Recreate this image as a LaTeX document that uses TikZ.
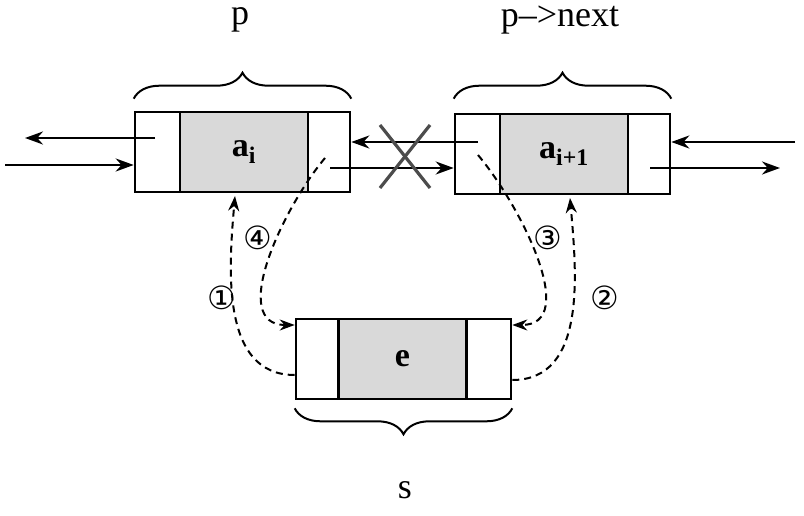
\documentclass[tikz,border=0pt]{standalone}
\usepackage{fontspec}
\setmainfont{Liberation Serif}
\newfontfamily\circfont{DejaVu Sans}
\usetikzlibrary{decorations.pathreplacing,arrows.meta}

\begin{document}
\begin{tikzpicture}[x=1pt,y=-1pt,
  outerbox/.style={draw,line width=2.6pt,minimum width=215pt,minimum height=80pt,inner sep=0pt},
  datapart/.style={draw,line width=2.6pt,fill=gray!30,minimum width=128pt,minimum height=80pt,inner sep=0pt,font=\fontsize{34}{40}\selectfont\bfseries},
  ptr/.style={line width=2.4pt,-{Stealth[length=18pt,width=13pt]}},
  dashptr/.style={line width=2pt,dash pattern=on 7pt off 5pt,-{Stealth[length=15pt,width=11pt]}},
  brc/.style={decorate,decoration={brace,amplitude=26pt,aspect=0.5},line width=2pt},
  lbl/.style={font=\fontsize{36}{42}\selectfont},
  num/.style={font=\circfont\fontsize{32}{36}\selectfont}]
\useasboundingbox (0,0) rectangle (804,516);
% the three list nodes
\node[outerbox] (ai) at (242.5,152) {};
\node[datapart] (aidata) at (244,152) {a\textsubscript{i}};
\node[outerbox] (aj) at (562.5,154) {};
\node[datapart] (ajdata) at (564,154) {a\textsubscript{i+1}};
\node[outerbox] (e) at (403.5,359) {};
\node[datapart] (edata) at (402.5,359) {e};
% braces and names
\draw[brc] ([yshift=12pt]ai.north west) -- ([yshift=12pt]ai.north east);
\draw[brc] ([yshift=14pt]aj.north west) -- ([yshift=14pt]aj.north east);
\draw[brc] ([yshift=-8pt]e.south east) -- ([yshift=-8pt]e.south west);
\node[lbl] (p) at (240,20) {p};
\node[lbl] (pnext) at (560,20) {p--{}>next};
\node[lbl] (s) at (405,490) {s};
% outer pointers
\coordinate (l1) at (25,138); \coordinate (l2) at (5,165);
\coordinate (r1) at (795,142); \coordinate (r2) at (780,168);
\draw[ptr] (155,138) -- (l1);
\draw[ptr] (l2) -- (ai.west |- l2);
\draw[ptr] (r1) -- (aj.east |- r1);
\draw[ptr] (650,168) -- (r2);
\draw[ptr] (330,168) -- (aj.west |- 0,168);
\draw[ptr] (478,142) -- (ai.east |- 0,142);
% the cut link
\draw[line width=3.2pt,gray!60!black] (380,125) -- (430,188) (380,188) -- (430,125);
% dashed new links
\draw[dashptr] (e.west |- 0,375) to[out=180,in=-95] (235,196);
\draw[dashptr] (325,158) to[out=-130,in=180] (e.west |- 0,325);
\draw[dashptr] (478,155) to[out=-50,in=0] (e.east |- 0,325);
\draw[dashptr] (e.east |- 0,380) to[out=0,in=-85] (570,198);
\node[num] (n1) at (222,298) {①};
\node[num] (n4) at (258,238) {④};
\node[num] (n3) at (548,238) {③};
\node[num] (n2) at (605,298) {②};
\end{tikzpicture}
\end{document}
